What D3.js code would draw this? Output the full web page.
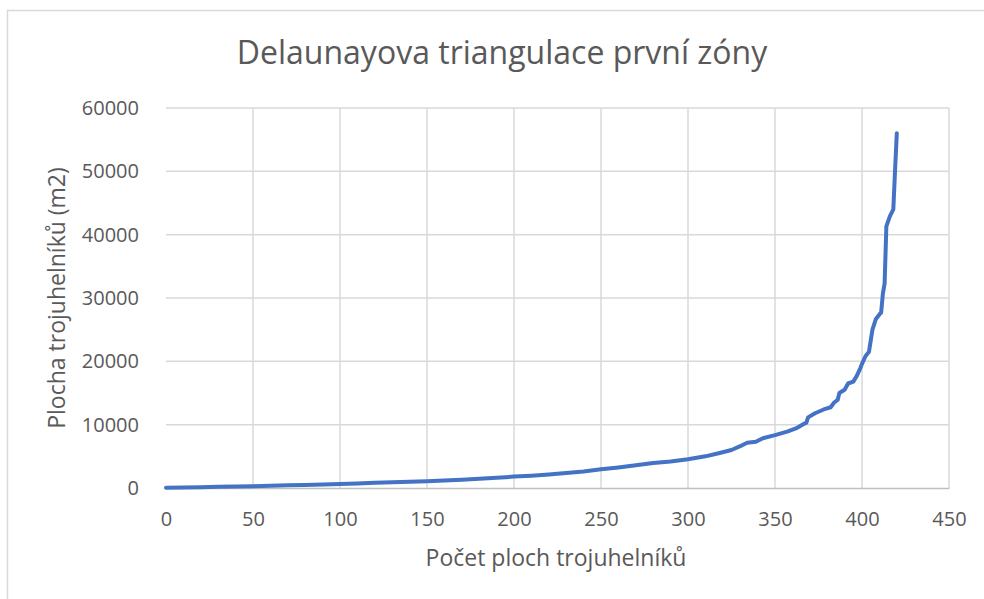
<!DOCTYPE html>
<html lang="cs">
<head>
<meta charset="utf-8">
<title>Delaunayova triangulace</title>
<script src="https://cdn.jsdelivr.net/npm/d3@7"></script>
<style>
  body { margin: 0; background: #fff; }
  svg { display: block; font-family: "Open Sans", sans-serif; }
</style>
</head>
<body>
<div id="chart"></div>
<script>
// index trojúhelníku (seřazeno) a plocha v m2
const idx = [0, 10, 20, 30, 40, 50, 60, 70, 80, 90, 100, 110, 120, 130, 140, 150, 160, 170, 180, 190,
  200, 210, 220, 230, 240, 250, 260, 270, 280, 290, 300, 310, 317, 325, 330, 334, 339, 343, 350, 357,
  362, 367, 368, 369, 373, 378, 382, 384, 386, 387, 390, 392, 395, 397, 399, 400, 402, 404, 406, 408,
  410, 411, 412, 413, 414, 416, 418, 419, 420];
const area = [30, 80, 130, 180, 230, 290, 350, 420, 480, 560, 650, 730, 810, 890, 980, 1080, 1190, 1320, 1450, 1600,
  1800, 1950, 2150, 2350, 2600, 2950, 3250, 3600, 3950, 4200, 4550, 5000, 5450, 6000, 6600, 7150, 7300, 7850, 8350, 8900,
  9400, 10200, 10300, 11150, 11800, 12400, 12750, 13500, 13900, 15000, 15500, 16500, 16800, 17700, 18900, 19600, 20800, 21500, 25000, 26700,
  27400, 27700, 30700, 32300, 41300, 42900, 44000, 50200, 56000];
const xTicks = [0, 50, 100, 150, 200, 250, 300, 350, 400, 450];
const yTicks = [0, 10000, 20000, 30000, 40000, 50000, 60000];

const data = idx.map((d, i) => ({x: d, y: area[i]}));

const width = 984, height = 599;
const margin = {top: 108, right: 35, bottom: 111, left: 166};

const svg = d3.select("#chart").append("svg")
    .attr("width", width)
    .attr("height", height);

// rámeček grafu
svg.append("rect")
    .attr("x", 7.5).attr("y", 10.5)
    .attr("width", width).attr("height", height)
    .attr("fill", "#fff")
    .attr("stroke", "#d9d9d9")
    .attr("stroke-width", 1.5);

const x = d3.scaleLinear()
    .domain([0, 450])
    .range([margin.left, width - margin.right]);

const y = d3.scaleLinear()
    .domain([0, 60000])
    .range([height - margin.bottom, margin.top]);

// mřížka
svg.append("g")
    .attr("stroke", "#d9d9d9")
    .attr("stroke-width", 1.5)
  .selectAll("line.h")
  .data(yTicks.slice(1))
  .join("line")
    .attr("x1", x(0)).attr("x2", x(450))
    .attr("y1", d => y(d)).attr("y2", d => y(d));

svg.append("g")
    .attr("stroke", "#d9d9d9")
    .attr("stroke-width", 1.5)
  .selectAll("line.v")
  .data(xTicks.slice(1))
  .join("line")
    .attr("x1", d => x(d)).attr("x2", d => x(d))
    .attr("y1", y(0)).attr("y2", y(60000));

// osy
const xAxis = g => g
    .attr("transform", `translate(0,${y(0)})`)
    .call(d3.axisBottom(x).tickValues(xTicks).tickFormat(d3.format("d")).tickSize(0).tickPadding(24))
    .call(g => g.select(".domain").attr("stroke", "#bfbfbf").attr("stroke-width", 1.5))
    .call(g => g.selectAll("text").attr("fill", "#595959").attr("font-size", 20)
        .attr("font-family", "'Open Sans', sans-serif"));

const yAxis = g => g
    .attr("transform", `translate(${x(0)},0)`)
    .call(d3.axisLeft(y).tickValues(yTicks).tickFormat(d3.format("d")).tickSize(0).tickPadding(27))
    .call(g => g.select(".domain").remove())
    .call(g => g.selectAll("text").attr("fill", "#595959").attr("font-size", 20)
        .attr("font-family", "'Open Sans', sans-serif"));

svg.append("g").call(xAxis);
svg.append("g").call(yAxis);

// čára
const line = d3.line()
    .x(d => x(d.x))
    .y(d => y(d.y));

svg.append("path")
    .datum(data)
    .attr("fill", "none")
    .attr("stroke", "#4472c4")
    .attr("stroke-width", 4)
    .attr("stroke-linejoin", "round")
    .attr("stroke-linecap", "round")
    .attr("d", line);

// titulky
svg.append("text")
    .attr("x", 502).attr("y", 64)
    .attr("text-anchor", "middle")
    .attr("fill", "#595959")
    .attr("font-size", 32)
    .text("Delaunayova triangulace první zóny");

svg.append("text")
    .attr("x", 556).attr("y", 566)
    .attr("text-anchor", "middle")
    .attr("fill", "#595959")
    .attr("font-size", 23)
    .text("Počet ploch trojuhelníků");

svg.append("text")
    .attr("transform", "translate(65,298) rotate(-90)")
    .attr("text-anchor", "middle")
    .attr("fill", "#595959")
    .attr("font-size", 23)
    .text("Plocha trojuhelníků (m2)");
</script>
</body>
</html>
